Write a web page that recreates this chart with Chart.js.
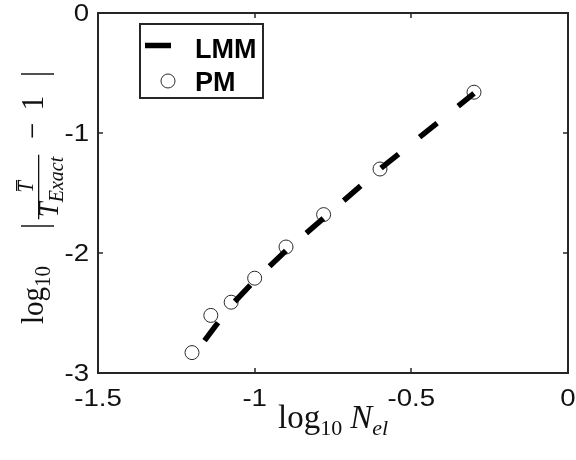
<!DOCTYPE html>
<html>
<head>
<meta charset="utf-8">
<script src="https://cdn.jsdelivr.net/npm/chart.js@4"></script>
<style>
  html, body { margin: 0; padding: 0; background: #fff; }
  #wrap { width: 576px; height: 460px; }
</style>
</head>
<body>
<div id="wrap"><canvas id="conv"></canvas></div>
<script>
// convergence data: log10 of element size vs log10 of relative error
const pmLogN = [-1.2, -1.14, -1.075, -1.0, -0.9, -0.78, -0.6, -0.3];
const pmLogErr = [-2.83, -2.52, -2.41, -2.21, -1.95, -1.68, -1.3, -0.66];
const lmmLogN = [-1.16, -1.08, -1.0, -0.9, -0.78, -0.6, -0.3];
const lmmLogErr = [-2.73, -2.45, -2.23, -1.98, -1.71, -1.3, -0.67];

const xTicks = [-1.5, -1, -0.5, 0];
const xTickLabels = ['-1.5', '-1', '-0.5', '0'];
const yTicks = [-3, -2, -1, 0];
const yTickLabels = ['-3', '-2', '-1', '0'];

const seriesNames = ['LMM', 'PM'];

const INK = '#262626';
const SANS = "'Liberation Sans', Arial, sans-serif";
const SERIF = "'Liberation Serif', 'Times New Roman', serif";

// draws a piece of text with a stretch about its anchor
function stretchText(ctx, text, x, y, sx, sy) {
  ctx.save();
  ctx.translate(x, y);
  ctx.scale(sx, sy);
  ctx.fillText(text, 0, 0);
  ctx.restore();
}

// box, inward ticks and wide tick labels, matlab style
const axesBox = {
  id: 'axesBox',
  afterDraw(chart) {
    const { ctx, chartArea: a, scales } = chart;
    const xs = scales.x, ys = scales.y;
    ctx.save();
    ctx.strokeStyle = INK;
    ctx.lineWidth = 2;
    ctx.strokeRect(a.left, a.top, a.right - a.left, a.bottom - a.top);

    ctx.lineWidth = 1.5;
    ctx.beginPath();
    xs.ticks.forEach(t => {
      const px = Math.round(xs.getPixelForValue(t.value));
      ctx.moveTo(px, a.bottom); ctx.lineTo(px, a.bottom - 5);
      ctx.moveTo(px, a.top); ctx.lineTo(px, a.top + 5);
    });
    ys.ticks.forEach(t => {
      const py = Math.round(ys.getPixelForValue(t.value));
      ctx.moveTo(a.left, py); ctx.lineTo(a.left + 5, py);
      ctx.moveTo(a.right, py); ctx.lineTo(a.right - 5, py);
    });
    ctx.stroke();

    ctx.fillStyle = '#111';
    ctx.font = '23px ' + SANS;
    ctx.textBaseline = 'middle';
    ctx.textAlign = 'center';
    xs.ticks.forEach((t, i) => {
      const label = t.label != null ? t.label : xTickLabels[i];
      stretchText(ctx, label, xs.getPixelForValue(t.value), a.bottom + 27, 1.2, 1);
    });
    ctx.textAlign = 'right';
    ys.ticks.forEach((t, i) => {
      const label = t.label != null ? t.label : yTickLabels[i];
      stretchText(ctx, label, a.left - 9, ys.getPixelForValue(t.value) + 2, 1.2, 1);
    });
    ctx.restore();
  }
};

// axis titles in a latex-like serif
const axisTitles = {
  id: 'axisTitles',
  afterDraw(chart) {
    const { ctx, chartArea: a } = chart;
    ctx.save();
    ctx.fillStyle = '#111';
    ctx.textBaseline = 'alphabetic';
    ctx.textAlign = 'left';

    // x title: log10 N_el
    const big = '33px ' + SERIF, small = '22px ' + SERIF;
    const bigI = 'italic 33px ' + SERIF, smallI = 'italic 22px ' + SERIF;
    ctx.font = big; const wLog = ctx.measureText('log').width;
    ctx.font = small; const w10 = ctx.measureText('10').width;
    ctx.font = bigI; const wN = ctx.measureText('N').width;
    ctx.font = smallI; const wEl = ctx.measureText('el').width;
    const gap = 8;
    const total = wLog + w10 + gap + wN + wEl;
    let x = (a.left + a.right) / 2 - total / 2;
    const base = 428;
    ctx.font = big; ctx.fillText('log', x, base); x += wLog;
    ctx.font = small; ctx.fillText('10', x, base + 7); x += w10 + gap;
    ctx.font = bigI; ctx.fillText('N', x, base); x += wN;
    ctx.font = smallI; ctx.fillText('el', x, base + 7);

    // y title: log10 | Tbar / T_Exact - 1 |, rotated
    ctx.translate(43, 324);
    ctx.rotate(-Math.PI / 2);
    const S = 1.1;
    const put = (txt, font, u, v, align) => {
      ctx.font = font;
      ctx.textAlign = align || 'left';
      stretchText(ctx, txt, u, v, 1, S);
    };
    put('log', '29px ' + SERIF, 0, 0);
    put('10', '21px ' + SERIF, 37, 7);
    put('|', '32px ' + SERIF, 98, 3, 'center');
    // fraction
    const fc = 137;
    ctx.font = 'italic 27px ' + SERIF;
    const wT = ctx.measureText('T').width;
    ctx.font = 'italic 20px ' + SERIF;
    const wEx = ctx.measureText('Exact').width;
    const wDen = wT + wEx;
    put('T', 'italic 27px ' + SERIF, fc - wDen / 2, 15);
    put('Exact', 'italic 20px ' + SERIF, fc - wDen / 2 + wT, 20);
    put('T', 'italic 21px ' + SERIF, fc, -10, 'center');
    ctx.fillRect(fc - wDen / 2 - 2, -5, wDen + 4, 1.3);
    // bar over numerator
    ctx.fillRect(fc - 4, -27, 11, 1.3);
    put('\u2212', '29px ' + SERIF, 193, 0, 'center');
    put('1', '29px ' + SERIF, 221, 0, 'center');
    put('|', '32px ' + SERIF, 250, 3, 'center');
    ctx.restore();
  }
};

// legend box in the upper left corner of the axes
const boxLegend = {
  id: 'boxLegend',
  afterDraw(chart) {
    const { ctx } = chart;
    const lmm = chart.data.datasets[0], pm = chart.data.datasets[1];
    ctx.save();
    ctx.fillStyle = '#fff';
    ctx.fillRect(140, 24, 123, 74);
    ctx.strokeStyle = INK;
    ctx.lineWidth = 2;
    ctx.strokeRect(140, 24, 123, 74);

    ctx.strokeStyle = lmm.borderColor;
    ctx.lineWidth = lmm.borderWidth;
    ctx.beginPath(); ctx.moveTo(145, 45.5); ctx.lineTo(171, 45.5); ctx.stroke();

    ctx.strokeStyle = pm.pointBorderColor;
    ctx.lineWidth = pm.pointBorderWidth;
    ctx.beginPath(); ctx.arc(168, 81, pm.pointRadius, 0, Math.PI * 2); ctx.stroke();

    ctx.fillStyle = '#000';
    ctx.font = 'bold 27px ' + SANS;
    ctx.textBaseline = 'alphabetic';
    ctx.fillText(lmm.label, 195, 58);
    ctx.fillText(pm.label, 195, 91);
    ctx.restore();
  }
};

const toXY = (xs, ys) => xs.map((v, i) => ({ x: v, y: ys[i] }));

new Chart(document.getElementById('conv'), {
  type: 'scatter',
  data: {
    datasets: [
      {
        label: seriesNames[0],
        data: toXY(lmmLogN, lmmLogErr),
        showLine: true,
        borderColor: '#000',
        borderWidth: 5.5,
        borderDash: [22.5, 27],
        borderCapStyle: 'butt',
        pointRadius: 0,
        tension: 0
      },
      {
        label: seriesNames[1],
        data: toXY(pmLogN, pmLogErr),
        showLine: false,
        pointStyle: 'circle',
        pointRadius: 7,
        pointBorderWidth: 1,
        pointBorderColor: '#2a2a2a',
        pointBackgroundColor: 'rgba(255,255,255,0)'
      }
    ]
  },
  options: {
    responsive: true,
    maintainAspectRatio: false,
    animation: false,
    layout: { padding: { top: 13, right: 7, left: 0, bottom: 0 } },
    plugins: {
      legend: { display: false },
      tooltip: { enabled: false }
    },
    scales: {
      x: {
        type: 'linear',
        min: xTicks[0],
        max: xTicks[xTicks.length - 1],
        afterBuildTicks: (s) => { s.ticks = xTicks.map(v => ({ value: v })); },
        afterFit: (s) => { s.height = 87; },
        ticks: { display: false, callback: (v) => xTickLabels[xTicks.indexOf(v)] },
        grid: { display: false },
        border: { display: false }
      },
      y: {
        type: 'linear',
        min: yTicks[0],
        max: yTicks[yTicks.length - 1],
        afterBuildTicks: (s) => { s.ticks = yTicks.map(v => ({ value: v })); },
        afterFit: (s) => { s.width = 98; },
        ticks: { display: false, callback: (v) => yTickLabels[yTicks.indexOf(v)] },
        grid: { display: false },
        border: { display: false }
      }
    }
  },
  plugins: [axesBox, axisTitles, boxLegend]
});
</script>
</body>
</html>
